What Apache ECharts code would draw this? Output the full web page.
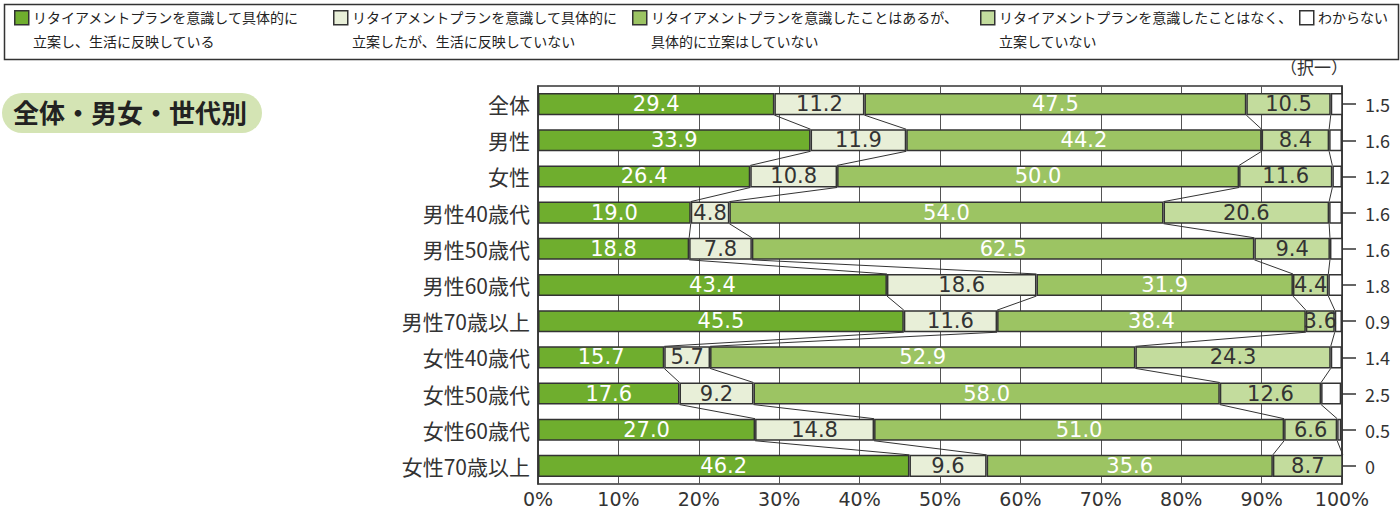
<!DOCTYPE html>
<html>
<head>
<meta charset="utf-8">
<script src="https://cdn.jsdelivr.net/npm/echarts@6/dist/echarts.min.js"></script>
<style>
  html, body { margin: 0; padding: 0; background: #fff; }
  #chart { width: 1400px; height: 512px; }
</style>
</head>
<body>
<div id="chart"></div>
<script>
var categories = ['全体', '男性', '女性', '男性40歳代', '男性50歳代', '男性60歳代', '男性70歳以上',
    '女性40歳代', '女性50歳代', '女性60歳代', '女性70歳以上'];

var seriesNames = [
    'リタイアメントプランを意識して具体的に\n立案し、生活に反映している',
    'リタイアメントプランを意識して具体的に\n立案したが、生活に反映していない',
    'リタイアメントプランを意識したことはあるが、\n具体的に立案はしていない',
    'リタイアメントプランを意識したことはなく、\n立案していない',
    'わからない'
];

var planned   = [29.4, 33.9, 26.4, 19.0, 18.8, 43.4, 45.5, 15.7, 17.6, 27.0, 46.2];
var notUsed   = [11.2, 11.9, 10.8, 4.8, 7.8, 18.6, 11.6, 5.7, 9.2, 14.8, 9.6];
var noPlan    = [47.5, 44.2, 50.0, 54.0, 62.5, 31.9, 38.4, 52.9, 58.0, 51.0, 35.6];
var never     = [10.5, 8.4, 11.6, 20.6, 9.4, 4.4, 3.6, 24.3, 12.6, 6.6, 8.7];
var unknown   = [1.5, 1.6, 1.2, 1.6, 1.6, 1.8, 0.9, 1.4, 2.5, 0.5, 0];

var xTicks = [0, 10, 20, 30, 40, 50, 60, 70, 80, 90, 100];

var colors = ['#6fae2e', '#e8efd8', '#9cc463', '#c3dc9d', '#ffffff'];
var labelColors = ['#ffffff', '#333333', '#ffffff', '#333333', '#333333'];

var values = [planned, notUsed, noPlan, never, unknown];

// 連結線（各区切り位置を次の行へつなぐ）
var linkData = [];
for (var i = 0; i < categories.length - 1; i++) {
    var a = 0, b = 0;
    for (var k = 0; k < 4; k++) {
        a += values[k][i];
        b += values[k][i + 1];
        linkData.push([a, i, b, i + 1]);
    }
}

var barRatio = 0.61;
var numFont = 'DejaVu Sans';

var series = values.map(function (arr, idx) {
    return {
        name: seriesNames[idx],
        type: 'bar',
        stack: 'total',
        barWidth: (barRatio * 100) + '%',
        data: arr,
        itemStyle: { color: colors[idx], borderColor: '#333', borderWidth: 1.5 },
        label: {
            show: idx < 4,
            position: 'inside',
            color: labelColors[idx],
            fontSize: 21,
            fontFamily: numFont,
            formatter: function (p) { return p.value.toFixed(1); }
        },
        z: 2
    };
});

series.push({
    type: 'custom',
    silent: true,
    z: 3,
    data: linkData,
    renderItem: function (params, api) {
        var h = api.size([0, 1])[1] * barRatio / 2;
        var p1 = api.coord([api.value(0), api.value(1)]);
        var p2 = api.coord([api.value(2), api.value(3)]);
        return {
            type: 'line',
            shape: { x1: p1[0], y1: p1[1] + h, x2: p2[0], y2: p2[1] - h },
            style: { stroke: '#333', lineWidth: 1 }
        };
    }
});

// 凡例（枠内に手組み）
var legendLeft = [14, 333, 632, 980, 1299];
var graphics = [{
    type: 'rect', left: 2, top: 2, silent: true,
    shape: { width: 1394, height: 55 },
    style: { fill: 'none', stroke: '#333', lineWidth: 1.5 }
}];
seriesNames.forEach(function (n, idx) {
    graphics.push({
        type: 'rect', left: legendLeft[idx], top: 10, silent: true,
        shape: { width: 14, height: 14 },
        style: { fill: colors[idx], stroke: '#333', lineWidth: 1.5 }
    });
    graphics.push({
        type: 'text', left: legendLeft[idx] + 19, top: 5, silent: true,
        style: { text: n, fontSize: 14, lineHeight: 24, fill: '#222', fontFamily: 'Noto Sans CJK JP' }
    });
});
graphics.push(
    {
        type: 'rect', left: 2, top: 93, silent: true,
        shape: { width: 260, height: 40, r: 20 },
        style: { fill: '#d4e4b4' }
    },
    {
        type: 'text', left: 13, top: 98,
        style: { text: '全体・男女・世代別', fontSize: 26, fontWeight: 'bold', fill: '#222',
            fontFamily: 'Noto Sans CJK JP' }
    },
    {
        type: 'text', right: 52, top: 58,
        style: { text: '（択一）', fontSize: 17, fill: '#333', fontFamily: 'Noto Sans CJK JP' }
    }
);

var chart = echarts.init(document.getElementById('chart'), null, { renderer: 'svg' });
chart.setOption({
    animation: false,
    color: colors,
    textStyle: { fontFamily: 'Noto Sans CJK JP' },
    grid: {
        left: 538, right: 58, top: 86, bottom: 28,
        show: true, borderColor: '#333', borderWidth: 1.5
    },
    xAxis: {
        type: 'value',
        min: 0, max: 100, interval: 10,
        axisLine: { show: false },
        axisTick: { show: false },
        splitLine: { lineStyle: { color: '#555', width: 1 } },
        axisLabel: {
            formatter: function (v) { return xTicks.indexOf(v) >= 0 ? v + '%' : ''; },
            fontSize: 19, fontFamily: numFont, color: '#333', margin: 5
        }
    },
    yAxis: [{
        type: 'category',
        data: categories,
        inverse: true,
        axisLine: { lineStyle: { color: '#333', width: 1.5 } },
        axisTick: { inside: true, length: 7, lineStyle: { color: '#333' } },
        axisLabel: { fontSize: 21, color: '#333', margin: 8 }
    }, {
        type: 'category',
        data: unknown.map(function (v) { return String(v); }),
        inverse: true,
        position: 'right',
        axisLine: { show: true, lineStyle: { color: '#333', width: 1.5 } },
        axisTick: { show: true, alignWithLabel: true, length: 14, lineStyle: { color: '#333', width: 1.5 } },
        axisLabel: { fontSize: 18, color: '#333', margin: 23 }
    }],
    graphic: graphics,
    series: series
});
</script>
</body>
</html>
